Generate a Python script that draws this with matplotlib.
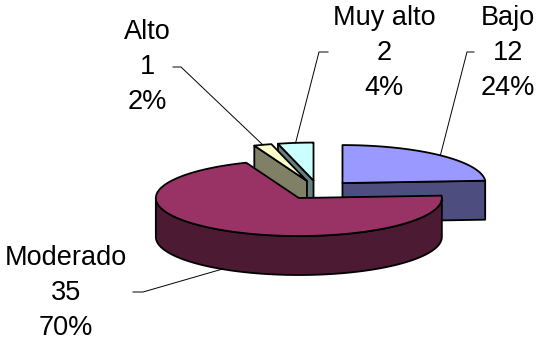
import numpy as np
import matplotlib
matplotlib.use('Agg')
from matplotlib import pyplot as plt
from matplotlib.patches import Polygon
from matplotlib.colors import to_rgb

# datos del grafico
categorias = ['Bajo', 'Moderado', 'Alto', 'Muy alto']
valores = [12, 35, 1, 2]
colores = ['#9999FF', '#993366', '#FFFFCC', '#CCFFFF']

# geometria del pastel 3D (en pixeles)
cx, cy = 318, 190      # centro
rx, ry = 143, 38       # radios de la elipse
h = 39                 # grosor
explode = 0.25
first_angle = 0        # angulo del primer sector (sentido horario desde las 12)

# posiciones de etiquetas y de las lineas guia
label_pos = {'Bajo': (508, 53), 'Moderado': (66, 293), 'Alto': (147, 67), 'Muy alto': (384, 53)}
tick_pts = {'Bajo': [(474, 52), (467, 52)], 'Moderado': [(133, 292), (143, 292)],
            'Alto': [(173, 67), (181, 67)], 'Muy alto': [(328, 52), (319, 52)]}


def shade(c, f=0.5):
    r, g, b = to_rgb(c)
    return (r * f, g * f, b * f)


def pt(ox, oy, t, r=1.0, z=0.0):
    t = np.radians(t)
    return ox + rx * r * np.cos(t), oy - ry * r * np.sin(t) + z


plt.rcParams['font.family'] = ['Liberation Sans', 'DejaVu Sans']
fig = plt.figure(figsize=(5.4, 3.41), dpi=100)
ax = fig.add_axes([0, 0, 1, 1])
ax.set_xlim(0, 540)
ax.set_ylim(341, 0)
ax.axis('off')

total = float(sum(valores))
slices = []
cum = 0.0
for cat, v, col in zip(categorias, valores, colores):
    cw0 = first_angle + 360 * cum / total
    cum += v
    cw1 = first_angle + 360 * cum / total
    a0, a1 = 90 - cw1, 90 - cw0          # angulos matematicos
    m = 0.5 * (a0 + a1)
    ox = cx + explode * rx * np.cos(np.radians(m))
    oy = cy - explode * ry * np.sin(np.radians(m))
    slices.append(dict(cat=cat, v=v, col=col, a0=a0, a1=a1, m=m, ox=ox, oy=oy))

lw = 1.3
# de atras hacia adelante
for s in sorted(slices, key=lambda s: s['oy']):
    ox, oy, a0, a1, col = s['ox'], s['oy'], s['a0'], s['a1'], s['col']
    dark = shade(col)
    # paredes radiales visibles
    for a, vis in ((a0, np.cos(np.radians(a0)) > 1e-6), (a1, np.cos(np.radians(a1)) < -1e-6)):
        if vis:
            p1 = pt(ox, oy, a)
            p2 = pt(ox, oy, a, z=h)
            ax.add_patch(Polygon([(ox, oy), p1, p2, (ox, oy + h)], closed=True,
                                 fc=dark, ec='black', lw=lw, joinstyle='round'))
    # cara lateral (mitad delantera)
    for lo, hi in ((-180, 0), (180, 360)):
        b0, b1 = max(a0, lo), min(a1, hi)
        if b1 > b0:
            t = np.linspace(b0, b1, 80)
            xt, yt = pt(ox, oy, t)
            xb, yb = pt(ox, oy, t, z=h)
            poly = np.column_stack([np.r_[xt, xb[::-1]], np.r_[yt, yb[::-1]]])
            ax.add_patch(Polygon(poly, closed=True, fc=dark, ec='black', lw=lw, joinstyle='round'))
    # cara superior
    t = np.linspace(a0, a1, 120)
    xt, yt = pt(ox, oy, t)
    poly = np.column_stack([np.r_[ox, xt], np.r_[oy, yt]])
    ax.add_patch(Polygon(poly, closed=True, fc=col, ec='black', lw=lw, joinstyle='round'))

# etiquetas y lineas guia
for s in slices:
    cat = s['cat']
    pct = 100 * s['v'] / total
    lx, ly = label_pos[cat]
    ax.text(lx, ly, f"{cat}\n{s['v']}\n{pct:.0f}%", ha='center', va='center',
            multialignment='center', fontsize=19.5, linespacing=1.45)
    z = h if np.sin(np.radians(s['m'])) < 0 else 0
    anchor = pt(s['ox'], s['oy'], s['m'], z=z)
    xs = [p[0] for p in tick_pts[cat]] + [anchor[0]]
    ys = [p[1] for p in tick_pts[cat]] + [anchor[1]]
    ax.plot(xs, ys, color='black', lw=0.7)

fig.savefig('out.png', dpi=100)
